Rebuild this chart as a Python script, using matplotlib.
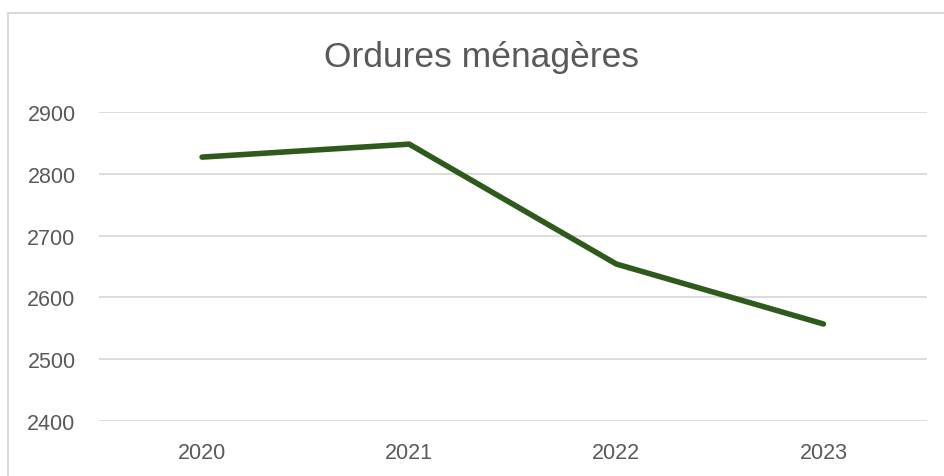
import matplotlib
matplotlib.use("Agg")
import matplotlib.pyplot as plt
from matplotlib.lines import Line2D

years = ["2020", "2021", "2022", "2023"]
values = [2827, 2848, 2654, 2557]
yticks = [2400, 2500, 2600, 2700, 2800, 2900]

W, H = 944, 477
fig = plt.figure(figsize=(W / 100, H / 100), dpi=100)
plt.rcParams['font.family'] = ['Liberation Sans', 'DejaVu Sans']

ax = fig.add_axes([98.5 / W, 1 - 422 / H, (927 - 98.5) / W, (422 - 113) / H])
x = list(range(len(years)))
ax.plot(x, values, color="#2e5a1c", lw=4.0, solid_capstyle="round", solid_joinstyle="miter", zorder=3)

ax.set_xlim(-0.5, len(years) - 0.5)
ax.set_ylim(2400, 2900)
ax.set_yticks(yticks)
ax.set_xticks(x)
ax.set_xticklabels(years)
ax.grid(axis="y", color="#d9d9d9", lw=1.3)
ax.set_axisbelow(True)
for s in ax.spines.values():
    s.set_visible(False)
ax.tick_params(axis="both", length=0, labelsize=15.5, labelcolor="#595959")
ax.tick_params(axis="y", pad=16.5)
ax.tick_params(axis="x", pad=15)

fig.text(481 / W, 1 - 58 / H, "Ordures ménagères", ha="center", va="center",
         fontsize=25.5, color="#595959")

# chart frame (cropped on right and bottom)
fig.add_artist(Line2D([8 / W, 8 / W], [0, 1 - 14 / H], color="#d9d9d9", lw=1.5))
fig.add_artist(Line2D([8 / W, 1], [1 - 14 / H, 1 - 14 / H], color="#d9d9d9", lw=1.5))

fig.savefig("out.png", dpi=100)
